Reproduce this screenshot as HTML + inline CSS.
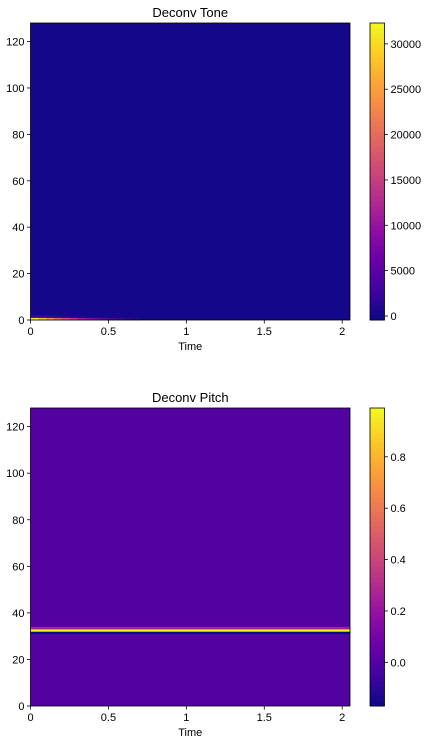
<!DOCTYPE html>
<html><head><meta charset="utf-8"><style>
html,body{margin:0;padding:0;background:#fff;width:432px;height:742px;overflow:hidden}
svg text{font-family:"Liberation Sans","DejaVu Sans",sans-serif;font-size:11px;fill:#000}
</style></head><body>
<svg id="fig" width="432" height="742" xmlns="http://www.w3.org/2000/svg"></svg>
<script>
// ---- data ----
const timeBinWidth = 0.05;
const timeBinCount = 41;            // 0 .. 2.05 s
const pitchRowCount = 128;
const toneRow0 = [32000, 28000, 24000, 20000, 17000, 14000, 11000, 9000, 7000, 5000, 3500, 2500, 1500, 800];
const toneRow1 = [3000, 2500, 2000, 1500, 1000, 700, 400, 200];
const toneRange = [-440, 32300];
const pitchRows = [31, 32, 33];
const pitchRowValues = [-0.17, 0.98, 0.25];
const pitchBase = -0.01;
const pitchRange = [-0.17, 0.99];
const xTicks = [0, 0.5, 1, 1.5, 2];
const xTickLabels = ["0", "0.5", "1", "1.5", "2"];
const yTicks = [0, 20, 40, 60, 80, 100, 120];
const toneCbTicks = [0, 5000, 10000, 15000, 20000, 25000, 30000];
const pitchCbTicks = [0.0, 0.2, 0.4, 0.6, 0.8];
const pitchCbLabels = ["0.0", "0.2", "0.4", "0.6", "0.8"];

// ---- plasma ----
const PL = ["#0d0887","#41049d","#6a00a8","#8f0da4","#b12a90","#cc4778","#e16462","#f2844b","#fca636","#fcce25","#f0f921"];
function hex(c){return [1,3,5].map(i=>parseInt(c.substr(i,2),16));}
function plasma(t){t=Math.max(0,Math.min(1,t));const f=t*10,i=Math.min(9,Math.floor(f)),r=f-i;
 const a=hex(PL[i]),b=hex(PL[i+1]);return "rgb("+a.map((v,k)=>Math.round(v+(b[k]-v)*r)).join(",")+")";}

const svg=document.getElementById("fig");const NS="http://www.w3.org/2000/svg";
function el(tag,attrs,parent){const e=document.createElementNS(NS,tag);for(const k in attrs)e.setAttribute(k,attrs[k]);(parent||svg).appendChild(e);return e;}
function txt(x,y,s,anchor,parent,size){const t=el("text",{x:x,y:y,"text-anchor":anchor||"middle"},parent);if(size)t.style.fontSize=size+"px";t.textContent=s;return t;}

function panel(cfg){
 const g=el("g",{});
 
 
 const L=30.5,R=350,T=cfg.top,B=cfg.bottom;
 const xMax=timeBinCount*timeBinWidth;
 const sx=v=>L+(R-L)*v/xMax, sy=v=>B-(B-T)*v/pitchRowCount;
 const norm=v=>(v-cfg.range[0])/(cfg.range[1]-cfg.range[0]);
 const bg=el("rect",{x:L,y:T,width:R-L,height:B-T,fill:plasma(norm(cfg.base))},g);
 
 
 cfg.cells.forEach(c=>{
  const r=el("rect",{x:sx(c.t*timeBinWidth),y:sy(c.row+1),width:sx((c.t+c.n)*timeBinWidth)-sx(c.t*timeBinWidth)+0.3,height:sy(c.row)-sy(c.row+1)+0.2,fill:plasma(norm(c.v))},g);
  
  
 });
 el("rect",{x:L,y:T,width:R-L,height:B-T,fill:"none",stroke:"#000","stroke-width":0.8},g);
 xTicks.forEach((v,i)=>{el("line",{x1:sx(v),x2:sx(v),y1:B,y2:B+3.5,stroke:"#000","stroke-width":0.8},g);
  const t=txt(sx(v),B+15,xTickLabels[i],"middle",g);});
 yTicks.forEach(v=>{el("line",{x1:L-3.5,x2:L,y1:sy(v),y2:sy(v),stroke:"#000","stroke-width":0.8},g);
  const t=txt(L-6,sy(v)+4,String(v),"end",g);});
 const xt=txt((L+R)/2,B+30,"Time","middle",g);
 const tt=txt((L+R)/2,T-6,cfg.title,"middle",g,13);
 const CL=370,CR=384.5;const cb=el("g",{},g);
 
 const N=60;for(let i=0;i<N;i++){el("rect",{x:CL,y:T+(B-T)*i/N,width:CR-CL,height:(B-T)/N+0.5,fill:plasma(1-(i+0.5)/N)},cb);}
 el("rect",{x:CL,y:T,width:CR-CL,height:B-T,fill:"none",stroke:"#000","stroke-width":0.8},cb);
 const cy=v=>B-(B-T)*norm(v);
 cfg.cbTicks.forEach((v,i)=>{el("line",{x1:CR,x2:CR+3.5,y1:cy(v),y2:cy(v),stroke:"#000","stroke-width":0.8},cb);
  const t=txt(CR+6,cy(v)+4,cfg.cbLabels[i],"start",cb);});
}

const toneCells=[];
toneRow0.forEach((v,i)=>toneCells.push({t:i,n:1,row:0,v:v}));
toneRow1.forEach((v,i)=>toneCells.push({t:i,n:1,row:1,v:v}));
panel({name:"deconv-tone-panel",title:"Deconv Tone",top:23,bottom:320,range:toneRange,base:0,cells:toneCells,
 cbTicks:toneCbTicks,cbLabels:toneCbTicks.map(String)});

const pitchCells=pitchRows.map((r,i)=>({t:0,n:timeBinCount,row:r,v:pitchRowValues[i]}));
panel({name:"deconv-pitch-panel",title:"Deconv Pitch",top:408,bottom:706,range:pitchRange,base:pitchBase,cells:pitchCells,
 cbTicks:pitchCbTicks,cbLabels:pitchCbLabels});
</script>
</body></html>
